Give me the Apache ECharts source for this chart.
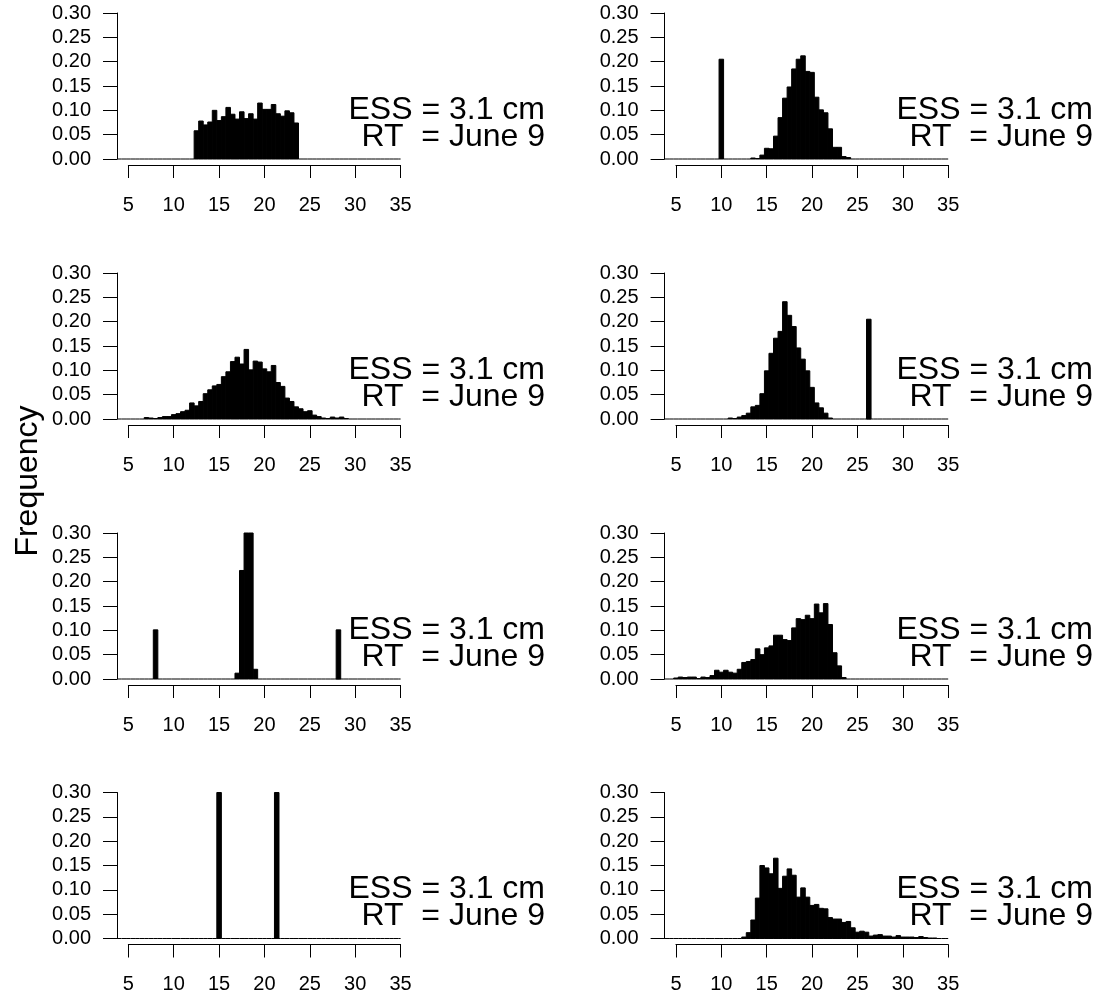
<!DOCTYPE html>
<html><head><meta charset="utf-8">
<script src="https://cdn.jsdelivr.net/npm/echarts@6/dist/echarts.min.js"></script>
<style>html,body{margin:0;padding:0;background:#fff}#c{width:1099px;height:995px}</style>
</head><body><div id="c"></div>
<script>
// ---------- data ----------
const xTickValues = [5, 10, 15, 20, 25, 30, 35];
const yTickValues = [0, 0.05, 0.10, 0.15, 0.20, 0.25, 0.30];
const binWidth = 0.5;
const binRange = [3.75, 35.25];
const essLabel = 'ESS = 3.1 cm';
const rtLabel = 'RT  = June 9';
const yTitle = 'Frequency';

// panel 1 (row 1, left)
const p1Start = 12.25;
const p1Freq = [0.058,0.078,0.070,0.076,0.100,0.079,0.087,0.106,0.092,0.082,0.097,0.083,0.093,0.082,0.115,0.102,0.102,0.112,0.093,0.088,0.099,0.095,0.074];
const p1Spikes = [];

// panel 2 (row 1, right)
const p2Start = 13.25;
const p2Freq = [0.002,0.001,0.008,0.022,0.021,0.047,0.085,0.125,0.148,0.185,0.205,0.212,0.180,0.178,0.127,0.101,0.095,0.062,0.024,0.024,0.005,0.003];
const p2Spikes = [[9.75, 0.205]];

// panel 3 (row 2, left)
const p3Start = 6.25;
const p3Freq = [0.000,0.003,0.002,0.001,0.003,0.005,0.005,0.009,0.011,0.015,0.018,0.033,0.027,0.036,0.052,0.060,0.068,0.071,0.087,0.097,0.118,0.127,0.113,0.143,0.101,0.119,0.117,0.103,0.097,0.110,0.075,0.067,0.043,0.036,0.025,0.021,0.015,0.017,0.008,0.005,0.002,0.001,0.004,0.002,0.004,0.001];
const p3Spikes = [];

// panel 4 (row 2, right)
const p4Start = 10.75;
const p4Freq = [0.002,0.001,0.004,0.007,0.012,0.025,0.028,0.052,0.099,0.135,0.166,0.180,0.241,0.213,0.190,0.146,0.123,0.099,0.065,0.033,0.023,0.012,0.002];
const p4Spikes = [[26.0, 0.205]];

// panel 5 (row 3, left) — central bars exceed the 0.30 axis top
const p5Start = 16.75;
const p5Freq = [0.012,0.223,0.770,0.770,0.020];
const p5Spikes = [[7.75, 0.101], [27.9, 0.101]];

// panel 6 (row 3, right)
const p6Start = 4.75;
const p6Freq = [0.002,0.004,0.003,0.004,0.004,0.001,0.004,0.003,0.007,0.018,0.014,0.018,0.014,0.012,0.020,0.034,0.036,0.040,0.062,0.050,0.064,0.068,0.090,0.090,0.081,0.079,0.105,0.124,0.122,0.131,0.124,0.154,0.136,0.155,0.112,0.054,0.027,0.003];
const p6Spikes = [];

// panel 7 (row 4, left) — both bars exceed the 0.30 axis top
const p7Start = 14.75;
const p7Freq = [1.0];
const p7Spikes = [[21.1, 1.0]];

// panel 8 (row 4, right)
const p8Start = 12.25;
const p8Freq = [0.003,0.012,0.038,0.083,0.150,0.145,0.133,0.165,0.103,0.128,0.143,0.130,0.085,0.104,0.085,0.068,0.070,0.062,0.061,0.043,0.040,0.040,0.033,0.035,0.022,0.013,0.015,0.013,0.005,0.007,0.008,0.005,0.005,0.003,0.006,0.003,0.003,0.003,0.002,0.004,0.002,0.001,0.001];
const p8Spikes = [];

const panels = [
  {start: p1Start, freq: p1Freq, spikes: p1Spikes},
  {start: p2Start, freq: p2Freq, spikes: p2Spikes},
  {start: p3Start, freq: p3Freq, spikes: p3Spikes},
  {start: p4Start, freq: p4Freq, spikes: p4Spikes},
  {start: p5Start, freq: p5Freq, spikes: p5Spikes},
  {start: p6Start, freq: p6Freq, spikes: p6Spikes},
  {start: p7Start, freq: p7Freq, spikes: p7Spikes},
  {start: p8Start, freq: p8Freq, spikes: p8Spikes}
];

// ---------- layout ----------
const FONT = '"Liberation Sans", Arial, Helvetica, sans-serif';
const colLeft = [117, 664.6];
const dataWidth = 283.6;
const rowZero = [159, 419, 679, 938.5];
const plotHeight = 146;
const axisGap = 6;
const textRight = [545, 1093];
const xMin = binRange[0], xMax = 35;

function buildBins(p) {
  const out = [];
  const n = Math.round((binRange[1] - binRange[0]) / binWidth);
  for (let i = 0; i < n; i++) {
    const left = binRange[0] + i * binWidth;
    const k = Math.round((left - p.start) / binWidth);
    let h = (k >= 0 && k < p.freq.length) ? p.freq[k] : 0;
    for (const s of p.spikes) if (Math.abs(s[0] - left) < 1e-6) h = s[1];
    out.push([left, left + binWidth, h]);
  }
  for (const s of p.spikes) {
    const r = (s[0] - binRange[0]) / binWidth;
    if (Math.abs(r - Math.round(r)) > 1e-6) out.push([s[0], s[0] + binWidth, s[1]]);
  }
  return out;
}

function renderBin(params, api) {
  const cs = params.coordSys;
  const x0 = api.value(0), x1 = api.value(1), h = api.value(2);
  const a = api.coord([x0, h]), b = api.coord([x1, 0]);
  const left = Math.max(a[0], cs.x), right = Math.min(b[0], cs.x + cs.width);
  if (right <= left) return null;
  if (!(h > 0)) {
    return {type: 'line', shape: {x1: left, y1: b[1], x2: right, y2: b[1]},
            style: {stroke: '#000', lineWidth: 1}};
  }
  const top = Math.max(a[1], cs.y);
  return {type: 'rect', shape: {x: left, y: top, width: right - left, height: b[1] - top},
          style: {fill: '#000', stroke: '#000', lineWidth: 1}};
}

const grid = [], xAxis = [], yAxis = [], series = [], graphic = [];
panels.forEach((p, i) => {
  const row = Math.floor(i / 2), col = i % 2;
  const left = colLeft[col];
  const zero = rowZero[row];
  // data grid
  const gd = grid.length;
  grid.push({left: left, top: zero - plotHeight, width: dataWidth, height: plotHeight});
  xAxis.push({gridIndex: gd, type: 'value', min: xMin, max: xMax, show: false});
  yAxis.push({gridIndex: gd, type: 'value', min: 0, max: 0.30, interval: 0.05,
    axisLine: {show: true, lineStyle: {color: '#000', width: 1}},
    axisTick: {show: true, length: 14, lineStyle: {color: '#000', width: 1}},
    axisLabel: {show: true, color: '#000', fontSize: 20, fontFamily: FONT, margin: 26,
                formatter: v => v.toFixed(2)},
    splitLine: {show: false}});
  series.push({type: 'custom', xAxisIndex: gd, yAxisIndex: gd, renderItem: renderBin,
    data: buildBins(p), encode: {x: [0, 1], y: 2}, silent: true, animation: false});
  // detached x axis grid
  const ga = grid.length;
  const axLeft = left + (xTickValues[0] - xMin) / (xMax - xMin) * dataWidth;
  const axWidth = (xTickValues[xTickValues.length - 1] - xTickValues[0]) / (xMax - xMin) * dataWidth;
  grid.push({left: axLeft, top: zero + axisGap - 1, width: axWidth, height: 1});
  xAxis.push({gridIndex: ga, type: 'value', min: xTickValues[0], max: xTickValues[xTickValues.length - 1], interval: 5,
    axisLine: {show: true, onZero: false, lineStyle: {color: '#000', width: 1}},
    axisTick: {show: true, length: 13, lineStyle: {color: '#000', width: 1}},
    axisLabel: {show: true, color: '#000', fontSize: 20, fontFamily: FONT, margin: 30},
    splitLine: {show: false}});
  yAxis.push({gridIndex: ga, type: 'value', min: 0, max: 1, show: false});
  // annotation text
  graphic.push({type: 'text', x: textRight[col], y: zero - 49,
    style: {text: essLabel, font: '32px ' + FONT, fill: '#000', textAlign: 'right', textVerticalAlign: 'middle'}});
  graphic.push({type: 'text', x: textRight[col], y: zero - 22,
    style: {text: rtLabel, font: '32px ' + FONT, fill: '#000', textAlign: 'right', textVerticalAlign: 'middle'}});
});
graphic.push({type: 'text', x: 28, y: 481, rotation: Math.PI / 2,
  style: {text: yTitle, font: '32px ' + FONT, fill: '#000', textAlign: 'center', textVerticalAlign: 'middle'}});

const chart = echarts.init(document.getElementById('c'), null, {renderer: 'canvas'});
chart.setOption({animation: false, backgroundColor: '#fff', grid, xAxis, yAxis, series, graphic});
</script></body></html>
